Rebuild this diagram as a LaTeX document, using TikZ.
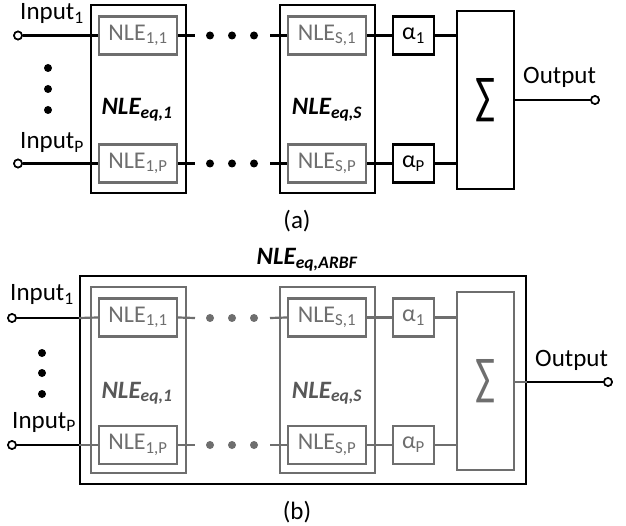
\documentclass[tikz,border=0pt]{standalone}
\usepackage{graphicx}
\usepackage{fontspec}
\setmainfont{Carlito}
\definecolor{grayc}{HTML}{6E6E6E}
\newcommand{\bigsum}{\resizebox{20pt}{35pt}{∑}}
\tikzset{
  blk/.style={draw=black, line width=2.2pt, inner sep=0pt},
  gbox/.style={draw=grayc, line width=2.2pt, inner sep=0pt, text=grayc},
  nlebox/.style={minimum width=78pt, minimum height=38pt, font=\fontsize{24}{28}\selectfont},
  alphabox/.style={minimum width=41pt, minimum height=38pt, font=\fontsize{24}{28}\selectfont},
  eqbox/.style={minimum width=95pt, minimum height=188pt},
  sigbox/.style={minimum width=57pt, minimum height=178pt},
  term/.style={circle, draw, line width=1.6pt, fill=white, minimum size=8pt, inner sep=0pt},
  dotc/.style={circle, fill, minimum size=8pt, inner sep=0pt},
  wire/.style={line width=2.2pt},
  lbl/.style={font=\fontsize{25}{28}\selectfont, inner sep=0pt},
  bilbl/.style={font=\fontsize{25}{28}\selectfont\bfseries\itshape, inner sep=0pt},
}
\begin{document}
\begin{tikzpicture}[x=1pt,y=-1pt]
\useasboundingbox (0,0) rectangle (626,526);
\fill[white] (0,0) rectangle (626,526);
% ---------------- (a) ----------------
\node[blk, eqbox] (eq1a) at (138.5,99) {};
\node[blk, eqbox] (eqSa) at (327.5,99) {};
\node[gbox, nlebox] (n11a) at (138,35.5) {NLE\textsubscript{1,1}};
\node[gbox, nlebox] (n1Pa) at (138,163.5) {NLE\textsubscript{1,P}};
\node[gbox, nlebox] (nS1a) at (327,35.5) {NLE\textsubscript{S,1}};
\node[gbox, nlebox] (nSPa) at (327,163.5) {NLE\textsubscript{S,P}};
\node[blk, alphabox] (a1a) at (413.5,35.5) {α\textsubscript{1}};
\node[blk, alphabox] (aPa) at (413.5,163.5) {α\textsubscript{P}};
\node[blk, sigbox] (sga) at (485.5,100) {\bigsum};
\node[term] (i1a) at (18,35.5) {};
\node[term] (iPa) at (18,163.5) {};
\node[term] (oa) at (595,100) {};
\node[lbl, anchor=base west] (ti1a) at (20,20) {Input\textsubscript{1}};
\node[lbl, anchor=base west] (tiPa) at (20,149) {Input\textsubscript{P}};
\node[lbl, anchor=base west] (toa) at (523,84) {Output};
\node[bilbl, anchor=base] (le1a) at (137,115) {NLE\textsubscript{eq,1}};
\node[bilbl, anchor=base] (leSa) at (327,115) {NLE\textsubscript{eq,S}};
\node[lbl] (capa) at (297,221) {(a)};
% vertical dots
\node[dotc] (vd1a) at (48,68) {};
\node[dotc] (vd2a) at (48,89) {};
\node[dotc] (vd3a) at (48,110) {};
% horizontal dots
\foreach \yy/\nm in {35.5/1, 163.5/P}{
  \node[dotc] (d1\nm a) at (210,\yy) {};
  \node[dotc] (d2\nm a) at (232,\yy) {};
  \node[dotc] (d3\nm a) at (254,\yy) {};
  \coordinate (dl\nm a) at (195,\yy);
  \coordinate (dr\nm a) at (270,\yy);
}
\draw[wire] (i1a) -- (n11a.west);
\draw[wire] (iPa) -- (n1Pa.west);
\draw[wire] (n11a.east) -- (dl1a);
\draw[wire] (n1Pa.east) -- (dlPa);
\draw[wire] (dr1a) -- (nS1a.west);
\draw[wire] (drPa) -- (nSPa.west);
\draw[wire] (nS1a.east) -- (a1a.west);
\draw[wire] (nSPa.east) -- (aPa.west);
\draw[wire] (a1a.east) -- (a1a.east -| sga.west);
\draw[wire] (aPa.east) -- (aPa.east -| sga.west);
\draw[wire] (sga.east) -- (oa);
\node[term] at (i1a) {};
\node[term] at (iPa) {};
\node[term] at (oa) {};
% ---------------- (b) ----------------
\node[blk, minimum width=446pt, minimum height=208pt] (outb) at (303,380) {};
\node[bilbl, anchor=base] (larbf) at (307,265) {NLE\textsubscript{eq,ARBF}};
\node[gbox, minimum width=95pt, minimum height=186pt] (eq1b) at (138.5,380) {};
\node[gbox, minimum width=95pt, minimum height=186pt] (eqSb) at (327.5,380) {};
\node[gbox, nlebox] (n11b) at (138,317.5) {NLE\textsubscript{1,1}};
\node[gbox, nlebox] (n1Pb) at (138,445) {NLE\textsubscript{1,P}};
\node[gbox, nlebox] (nS1b) at (327,317.5) {NLE\textsubscript{S,1}};
\node[gbox, nlebox] (nSPb) at (327,445) {NLE\textsubscript{S,P}};
\node[gbox, alphabox] (a1b) at (413.5,317.5) {α\textsubscript{1}};
\node[gbox, alphabox] (aPb) at (413.5,445) {α\textsubscript{P}};
\node[gbox, minimum width=57pt, minimum height=178pt] (sgb) at (485.5,381) {\bigsum};
\node[term] (i1b) at (12,318) {};
\node[term] (iPb) at (12,445) {};
\node[term] (ob) at (608,382) {};
\node[lbl, anchor=base west] (ti1b) at (10,301) {Input\textsubscript{1}};
\node[lbl, anchor=base west] (tiPb) at (12,428) {Input\textsubscript{P}};
\node[lbl, anchor=base west] (tob) at (535,366) {Output};
\node[bilbl, anchor=base, text=grayc!80!black] (le1b) at (137,398) {NLE\textsubscript{eq,1}};
\node[bilbl, anchor=base, text=grayc!80!black] (leSb) at (327,398) {NLE\textsubscript{eq,S}};
\node[lbl] (capb) at (297,512) {(b)};
\node[dotc] (vd1b) at (42,353) {};
\node[dotc] (vd2b) at (42,373) {};
\node[dotc] (vd3b) at (42,394) {};
\foreach \yy/\nm in {318/1, 445/P}{
  \node[dotc, fill=grayc] (d1\nm b) at (210,\yy) {};
  \node[dotc, fill=grayc] (d2\nm b) at (232,\yy) {};
  \node[dotc, fill=grayc] (d3\nm b) at (254,\yy) {};
  \coordinate (dl\nm b) at (195,\yy);
  \coordinate (dr\nm b) at (270,\yy);
}
\draw[wire] (i1b) -- (i1b -| outb.west);
\draw[wire] (iPb) -- (iPb -| outb.west);
\draw[wire, grayc] (i1b -| outb.west) -- (n11b.west);
\draw[wire, grayc] (iPb -| outb.west) -- (n1Pb.west);
\draw[wire, grayc] (n11b.east) -- (dl1b);
\draw[wire, grayc] (n1Pb.east) -- (dlPb);
\draw[wire, grayc] (dr1b) -- (nS1b.west);
\draw[wire, grayc] (drPb) -- (nSPb.west);
\draw[wire, grayc] (nS1b.east) -- (a1b.west);
\draw[wire, grayc] (nSPb.east) -- (aPb.west);
\draw[wire, grayc] (a1b.east) -- (a1b.east -| sgb.west);
\draw[wire, grayc] (aPb.east) -- (aPb.east -| sgb.west);
\draw[wire, grayc] (ob -| sgb.east) -- (ob -| outb.east);
\draw[wire] (ob -| outb.east) -- (ob);
\node[term] at (i1b) {};
\node[term] at (iPb) {};
\node[term] at (ob) {};
\end{tikzpicture}
\end{document}
